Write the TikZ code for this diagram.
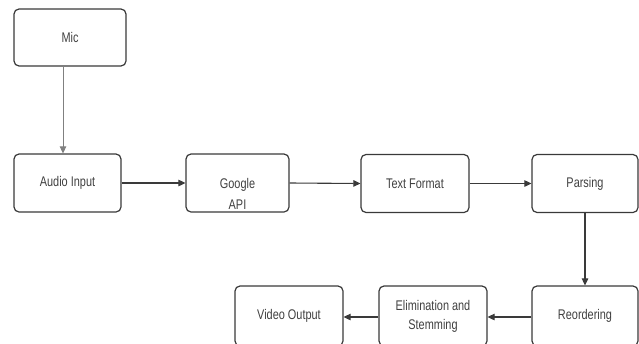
\documentclass[tikz,border=0pt]{standalone}
\usepackage{fontspec}
\setmainfont{Liberation Sans}[FakeStretch=0.78]
\usetikzlibrary{arrows.meta}
\definecolor{boxline}{HTML}{3A3A3A}
\definecolor{txt}{HTML}{404040}
\begin{document}
\begin{tikzpicture}[x=1pt,y=-1pt,
  stepbox/.style={draw=boxline,line width=1.2pt,rounded corners=5pt,fill=white,
    minimum width=#1,minimum height=58pt,inner sep=0pt,align=center,text=txt,
    font=\fontsize{14}{19}\selectfont},
  stepbox/.default=107pt,
  lbl/.style={text=txt,align=center,inner sep=0pt,font=\fontsize{14}{21}\selectfont},
  arr/.style={draw=boxline,line width=1.1pt,-{Triangle[length=7pt,width=6.5pt]}}]
\useasboundingbox (0,0) rectangle (639,343);
\node[stepbox=112pt,minimum height=57pt] (mic) at (70,37.5) {Mic};
\node[stepbox=107pt] (audio) at (67.5,183) {Audio Input};
\node[stepbox=103pt] (google) at (237.5,183) {};
\node[lbl] (googletxt) at (237.5,194) {Google\\API};
\node[stepbox=108pt] (textf) at (415,183.5) {Text Format};
\node[stepbox=106pt] (parsing) at (585,183.5) {Parsing};
\node[stepbox=106pt,minimum height=60pt] (reord) at (585,316) {\raisebox{-2pt}{Reordering}};
\node[stepbox=108pt,minimum height=60pt] (elim) at (433,316) {Elimination and\\Stemming};
\node[stepbox=108pt,minimum height=60pt] (video) at (289,316) {Video Output};
\draw[arr,draw=gray,line width=0.9pt] ([xshift=-7pt]mic.south) -- ([xshift=-4.5pt]audio.north);
\draw[arr] (audio.east) -- (google.west);
\draw[arr] (google.east) -- (textf.west);
\draw[arr] (textf.east) -- (parsing.west);
\draw[arr] (parsing.south) -- (reord.north);
\draw[arr] ([yshift=-1pt]reord.west) -- ([yshift=-1pt]elim.east);
\draw[arr] ([yshift=-1pt]elim.west) -- ([yshift=-1pt]video.east);
\end{tikzpicture}
\end{document}
